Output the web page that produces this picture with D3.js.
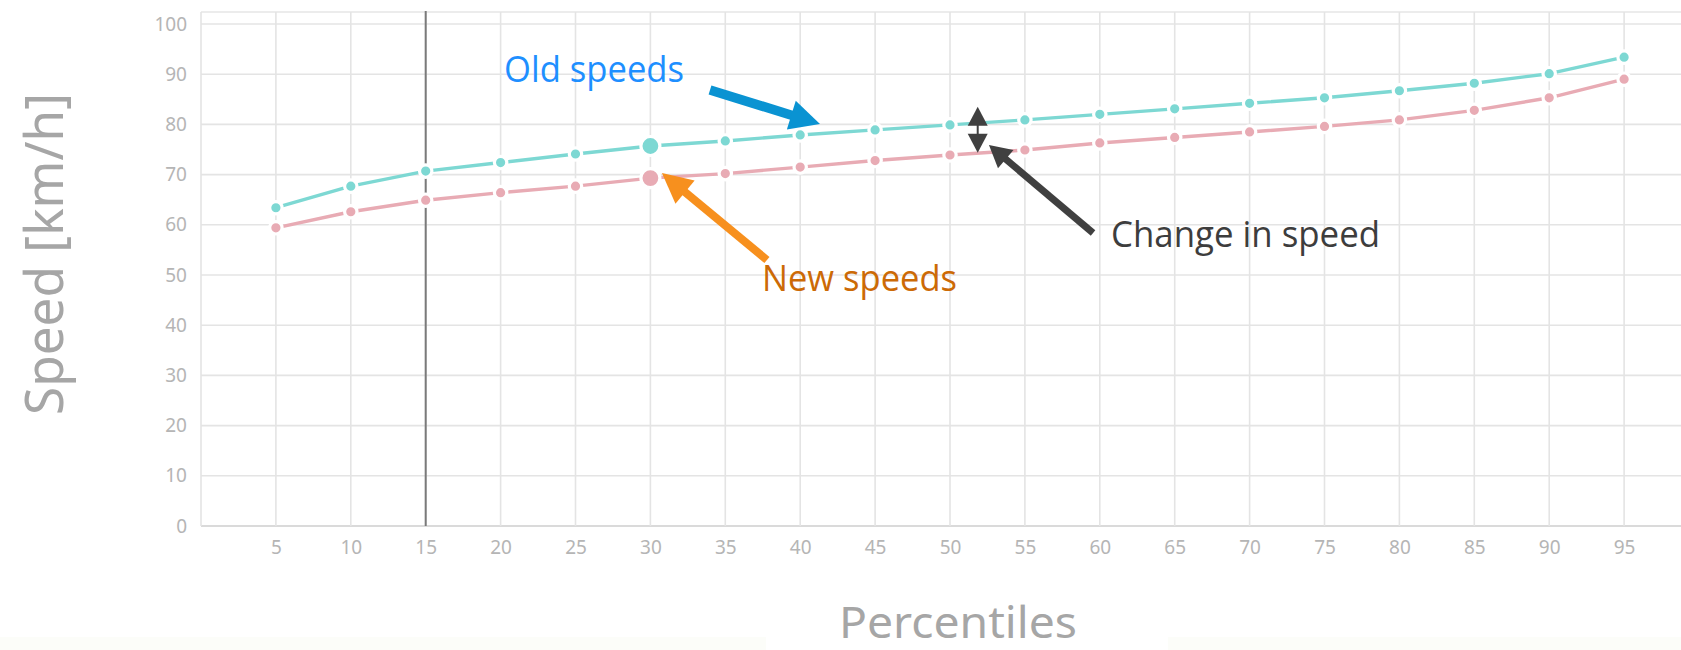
<!DOCTYPE html>
<html>
<head>
<meta charset="utf-8">
<script src="https://cdn.jsdelivr.net/npm/d3@7"></script>
<style>
  html, body { margin: 0; padding: 0; background: #ffffff; }
  svg { display: block; }
</style>
</head>
<body>
<svg id="chart" width="1681" height="650"></svg>
<script>
// ---- data ----
const percentiles = [5,10,15,20,25,30,35,40,45,50,55,60,65,70,75,80,85,90,95];
const oldSpeeds   = [63.4,67.7,70.7,72.4,74.1,75.7,76.7,77.9,78.9,79.9,80.9,82.0,83.1,84.2,85.3,86.7,88.2,90.1,93.4];
const newSpeeds   = [59.4,62.6,64.9,66.4,67.7,69.3,70.2,71.5,72.8,73.9,74.9,76.3,77.4,78.5,79.6,80.9,82.8,85.3,89.0];
const highlightPercentile = 30;
const markerPercentile = 15;
const yTicks = [0,10,20,30,40,50,60,70,80,90,100];
const xTicks = [5,10,15,20,25,30,35,40,45,50,55,60,65,70,75,80,85,90,95];

const svg = d3.select("#chart");
const W = 1681, H = 650;
const plotLeft = 201, plotBottom = 526, plotTop = 12;

const x = d3.scaleLinear().domain([0, 100]).range([plotLeft, 1699]);
const y = d3.scaleLinear().domain([0, 100]).range([plotBottom, 24]);

// faint bottom band
svg.append("rect").attr("x", 0).attr("y", 637).attr("width", W).attr("height", 13).attr("fill", "#fcfdf9");
svg.append("rect").attr("x", 766).attr("y", 637).attr("width", 402).attr("height", 13).attr("fill", "#ffffff");

const grid = svg.append("g").attr("class", "grid");
// horizontal grid
grid.selectAll("line.h").data(yTicks).join("line")
  .attr("class", "h")
  .attr("x1", plotLeft).attr("x2", W)
  .attr("y1", d => y(d)).attr("y2", d => y(d))
  .attr("stroke", d => d === 0 ? "#dadada" : "#e4e4e4")
  .attr("stroke-width", d => d === 0 ? 2.2 : 1.6);
// top frame
grid.append("line").attr("x1", plotLeft).attr("x2", W).attr("y1", plotTop).attr("y2", plotTop)
  .attr("stroke", "#e6e6e6").attr("stroke-width", 1.6);
// vertical grid
grid.selectAll("line.v").data([0].concat(xTicks)).join("line")
  .attr("class", "v")
  .attr("x1", d => x(d)).attr("x2", d => x(d))
  .attr("y1", plotTop).attr("y2", plotBottom)
  .attr("stroke", "#e4e4e4")
  .attr("stroke-width", 1.6);

// vertical marker line at 15
svg.append("line")
  .attr("x1", x(markerPercentile)).attr("x2", x(markerPercentile))
  .attr("y1", plotTop - 1).attr("y2", plotBottom)
  .attr("stroke", "#7a7a7a").attr("stroke-width", 2);

// axes
const tickFont = "'Noto Sans', 'DejaVu Sans', sans-serif";
const yAxis = svg.append("g").attr("transform", `translate(${plotLeft},0)`)
  .call(d3.axisLeft(y).tickValues(yTicks).tickSize(0).tickPadding(14));
const xAxis = svg.append("g").attr("transform", `translate(0,${plotBottom})`)
  .call(d3.axisBottom(x).tickValues(xTicks).tickSize(0).tickPadding(15));
[yAxis, xAxis].forEach(g => {
  g.select(".domain").remove();
  g.selectAll("text")
    .attr("font-family", tickFont)
    .attr("font-size", 19)
    .attr("fill", "#b5b5b5");
});

// axis titles
svg.append("text")
  .attr("transform", "translate(63,254) rotate(-90)")
  .attr("text-anchor", "middle")
  .attr("font-family", tickFont)
  .attr("font-size", 52)
  .attr("fill", "#a6a6a6")
  .attr("textLength", 322).attr("lengthAdjust", "spacingAndGlyphs")
  .text("Speed [km/h]");
svg.append("text")
  .attr("x", 958).attr("y", 638)
  .attr("text-anchor", "middle")
  .attr("font-family", tickFont)
  .attr("font-size", 44)
  .attr("fill", "#a6a6a6")
  .attr("textLength", 238).attr("lengthAdjust", "spacingAndGlyphs")
  .text("Percentiles");

// series
const series = [
  { name: "old", values: oldSpeeds, color: "#7dd8d3" },
  { name: "new", values: newSpeeds, color: "#e8abb4" }
];
const line = d3.line().x(d => x(d[0])).y(d => y(d[1]));
series.forEach(s => {
  const pts = percentiles.map((p, i) => [p, s.values[i]]);
  svg.append("path")
    .attr("d", line(pts))
    .attr("fill", "none")
    .attr("stroke", s.color)
    .attr("stroke-width", 3.4)
    .attr("stroke-linejoin", "round");
});
series.forEach(s => {
  const pts = percentiles.map((p, i) => [p, s.values[i]]);
  svg.append("g").selectAll("circle").data(pts).join("circle")
    .attr("cx", d => x(d[0])).attr("cy", d => y(d[1]))
    .attr("r", d => d[0] === highlightPercentile ? 9.5 : 6.2)
    .attr("fill", s.color)
    .attr("stroke", "#ffffff")
    .attr("stroke-width", 3.2);
});

// ---- annotations (positions in data space) ----
function arrow(tail, tip, color, shaftW, headL, headHalfW) {
  const x0 = x(tail[0]), y0 = y(tail[1]), x1 = x(tip[0]), y1 = y(tip[1]);
  const dx = x1 - x0, dy = y1 - y0, len = Math.hypot(dx, dy);
  const ux = dx / len, uy = dy / len, nx = -uy, ny = ux;
  const bx = x1 - ux * headL, by = y1 - uy * headL;
  svg.append("line")
    .attr("x1", x0).attr("y1", y0).attr("x2", bx + ux * 2).attr("y2", by + uy * 2)
    .attr("stroke", color).attr("stroke-width", shaftW);
  svg.append("path")
    .attr("d", `M${x1},${y1} L${bx + nx * headHalfW},${by + ny * headHalfW} L${bx - nx * headHalfW},${by - ny * headHalfW} Z`)
    .attr("fill", color);
}
arrow([33.98, 86.85], [41.32, 80.08], "#0a93d2", 9.5, 30, 15);
arrow([37.78, 52.99], [30.77, 70.32], "#f7901e", 8, 30, 15);
arrow([59.55, 58.37], [52.60, 75.90], "#404040", 7, 22, 12);

// double-headed arrow "change in speed"
(function() {
  const cx = x(51.85), top = y(83.53), bot = y(74.36);
  const hl = 19, hw = 10, c = "#404040";
  svg.append("path").attr("d", `M${cx},${top} L${cx + hw},${top + hl} L${cx - hw},${top + hl} Z`).attr("fill", c);
  svg.append("path").attr("d", `M${cx},${bot} L${cx + hw},${bot - hl} L${cx - hw},${bot - hl} Z`).attr("fill", c);
  svg.append("line").attr("x1", cx).attr("x2", cx).attr("y1", top + hl - 1).attr("y2", bot - hl + 1)
    .attr("stroke", c).attr("stroke-width", 2);
})();

const annFont = "'Open Sans', 'Noto Sans', sans-serif";
const labels = [
  { text: "Old speeds", p: 20.23, v: 88.5, color: "#1e8fff", w: 180 },
  { text: "New speeds", p: 37.45, v: 46.8, color: "#cc6a06", w: 195 },
  { text: "Change in speed", p: 60.75, v: 55.6, color: "#3d3d3d", w: 269 }
];
svg.append("g").selectAll("text").data(labels).join("text")
  .attr("x", d => x(d.p)).attr("y", d => y(d.v))
  .attr("font-family", annFont)
  .attr("font-size", 37)
  .attr("fill", d => d.color)
  .attr("textLength", d => d.w).attr("lengthAdjust", "spacingAndGlyphs")
  .text(d => d.text);
</script>
</body>
</html>
